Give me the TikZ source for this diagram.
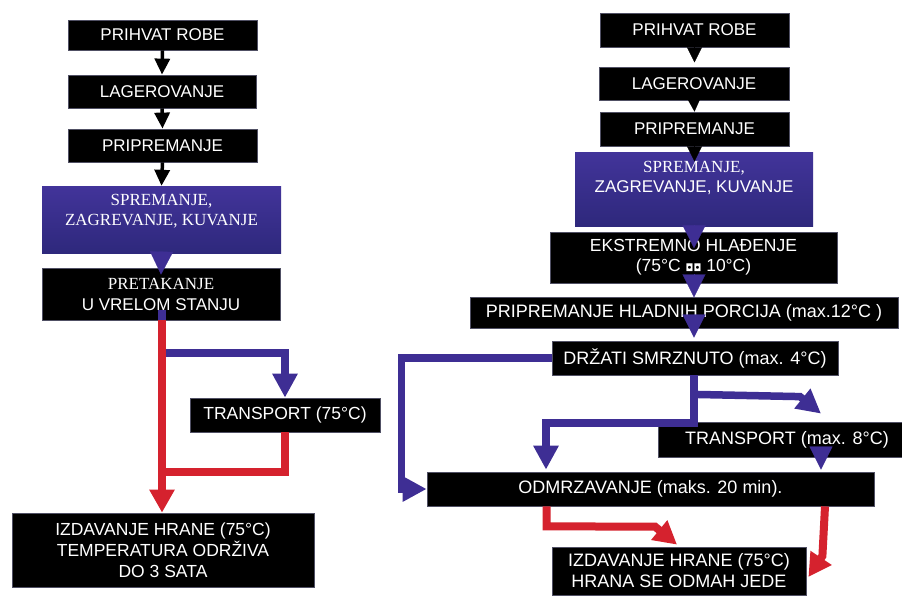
\documentclass[tikz,border=0pt]{standalone}
\usepackage{fontspec}
\setmainfont{Liberation Sans}
\newfontfamily\serf{Liberation Serif}
\newfontfamily\symf{DejaVu Sans}
\usetikzlibrary{arrows.meta,calc}
\definecolor{myblue}{RGB}{62,46,148}
\definecolor{myblueT}{RGB}{66,52,154}
\definecolor{myblueB}{RGB}{46,40,124}
\definecolor{myred}{RGB}{213,34,46}
\definecolor{edge}{RGB}{80,80,100}
\tikzset{
 bx/.style={fill=black, draw=edge, line width=0.8pt, text=white, align=center, inner sep=0pt, font=\fontsize{17}{21}\selectfont},
 big/.style={font=\fontsize{18}{21}\selectfont},
 bb/.style={top color=myblueT, bottom color=myblueB, draw=none, inner sep=0pt},
 sz/.style 2 args={minimum width=#1pt, minimum height=#2pt},
 blkarr/.style={draw=black, line width=3.5pt, -{Triangle[length=16pt,width=15pt]}},
 blktri/.style={draw=black, line width=0.2pt, -{Triangle[length=15pt,width=15pt]}},
 blutri/.style={draw=myblue, line width=0.2pt, -{Triangle[length=23pt,width=23pt]}},
 bline/.style={draw=myblue, line width=7.5pt, -{Triangle[length=24pt,width=24pt]}},
 rline/.style={draw=myred, line width=8pt, -{Triangle[length=23pt,width=24pt]}},
 rplain/.style={draw=myred, line width=8pt},
 txt/.style={text=white, align=center, inner sep=0pt, font=\fontsize{17}{20}\selectfont},
}
\begin{document}
\begin{tikzpicture}[x=1pt,y=-1pt]
\useasboundingbox[fill=white] (0,0) rectangle (902,595);

% ---------- left column ----------
\node[bx, sz={189}{30}] (L1) at (162.5,35) {PRIHVAT ROBE};
\node[bx, sz={188}{33}] (L2) at (162,91.5) {LAGEROVANJE};
\node[bx, sz={189}{33}] (L3) at (162.5,145.5) {PRIPREMANJE};
\node[bb, sz={239}{67}] (L4) at (161.5,219.5) {};
\node[txt] (L4t) at (161.5,211.5) {\serf SPREMANJE,\\\serf ZAGREVANJE, KUVANJE};
\node[bx, sz={238}{52}] (L5) at (161,294) {{\serf PRETAKANJE}\\U VRELOM STANJU};
\node[bx, sz={190}{34}, font=\fontsize{17.5}{21}\selectfont] (L6) at (285,415) {TRANSPORT (75°C)};
\node[bx, sz={302}{74}, font=\fontsize{17.5}{21}\selectfont] (L7) at (163,550) {IZDAVANJE HRANE (75°C)\\TEMPERATURA ODRŽIVA\\DO 3 SATA};

% ---------- right column ----------
\node[bx, sz={189}{34}] (R1) at (694.5,30) {PRIHVAT ROBE};
\node[bx, sz={190}{33}] (R2) at (694,83.5) {LAGEROVANJE};
\node[bx, sz={189}{34}] (R3) at (694.5,129) {PRIPREMANJE};
\node[bb, sz={238}{74}] (R4) at (694,189) {};
\node[txt] (R4t) at (694,178) {{\serf SPREMANJE,}\\ZAGREVANJE, KUVANJE};
\node[bx, sz={287}{51}, font=\fontsize{17.5}{20}\selectfont] (R5) at (693.5,257.5) {EKSTREMNO HLAĐENJE\\(75°C {\symf\fontsize{10}{10}\selectfont ◘◘} 10°C)};
\node[bx, big, sz={428}{31}] (R6) at (684,312.5) {PRIPREMANJE HLADNIH PORCIJA (max.12°C )};
\node[bx, big, sz={286}{34}] (R7) at (695,358) {DRŽATI SMRZNUTO (max. 4°C)};
\node[bx, big, sz={244}{35}] (R8) at (780,439.5) {\hspace*{14pt}TRANSPORT (max. 8°C)};
\node[bx, big, sz={447}{34}] (R9) at (650.5,489) {ODMRZAVANJE (maks. 20 min).};
\node[bx, big, sz={254}{48}] (R10) at (679,571) {IZDAVANJE HRANE (75°C)\\HRANA SE ODMAH JEDE};

% ---------- left connectors ----------
\draw[blkarr] (L1.south) -- (L2.north);
\draw[blkarr] (L2.south) -- (L3.north);
\draw[blkarr] (L3.south) -- (L4.north);
\draw[blutri] (L4.south) -- ($(L5.north)+(0,7)$);
\draw[bline] ($(L5.south)+(1,-10)$) |- ($(L6.north)+(0,-44.5)$) -- (L6.north);
\draw[rline] ($(L5.south)+(1,0)$) -- ($(L7.north)+(-1,0)$);
\draw[rplain] (L6.south) |- ($(L5.south)+(1,151.5)$);

% ---------- right connectors ----------
\draw[blktri] (R1.south) -- ($(R1.south)+(0,15)$);
\draw[blktri] (R2.south) -- (R3.north);
\draw[blktri] (R3.south) -- ($(R3.south)+(0,15)$);
\draw[blutri] (R4.south) -- ($(R4.south)+(0,22)$);
\draw[blutri] ($(R5.south)+(0.5,-8)$) -- ($(R5.south)+(0.5,14)$);
\draw[blutri] ($(R7.north)+(-1,-26)$) -- ($(R7.north)+(-1,-3)$);
\draw[bline] (R7.west) -| ($(R9.west)+(-25,0)$) -- (R9.west);
\draw[bline] ($(R7.south)+(-1,0)$) |- ($(R9.north)+(-104.5,-48.5)$) -- ($(R9.north)+(-104.5,-2)$);
\draw[bline] ($(R7.south)+(-1,19)$) -- ($(R8.north)+(20,-25)$) -- ($(R8.north)+(41,-8)$);
\draw[blutri] ($(R8.south)+(41,-10)$) -- ($(R9.north)+(170.5,-2)$);
\draw[rline] ($(R9.south)+(-104,0)$) -- ($(R9.south)+(-104,20)$) -- ($(R10.north)+(-24,-20)$) -- ($(R10.north)+(-2,-2)$);
\draw[rline] ($(R9.south)+(174.5,0)$) -- ($(R10.east)+(16,-15)$) -- ($(R10.east)+(2,6)$);
\end{tikzpicture}
\end{document}
